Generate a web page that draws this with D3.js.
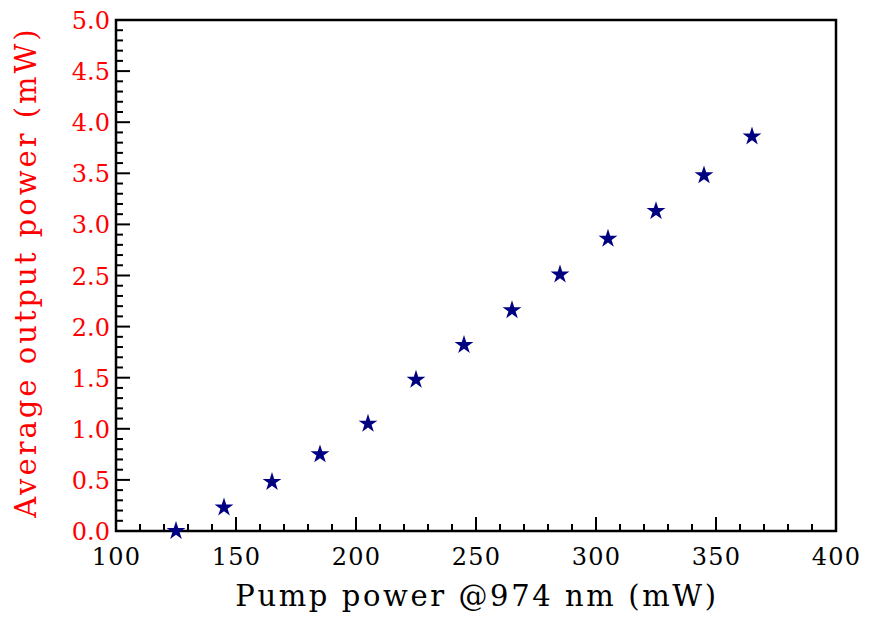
<!DOCTYPE html>
<html><head><meta charset="utf-8">
<script src="https://cdn.jsdelivr.net/npm/d3@7"></script>
<style>body{margin:0;background:#fff} text{font-family:"DejaVu Serif","Liberation Serif",serif;}</style>
</head><body>
<script>
const pumpPower = [125,145,165,185,205,225,245,265,285,305,325,345,365];
const outputPower = [0.00,0.23,0.48,0.75,1.05,1.48,1.82,2.16,2.51,2.86,3.13,3.48,3.86];
const xTicks = [100,150,200,250,300,350,400];
const yTicks = [0.0,0.5,1.0,1.5,2.0,2.5,3.0,3.5,4.0,4.5,5.0];
const xTitle = "Pump power @974 nm (mW)";
const yTitle = "Average output power (mW)";

const W=871,H=621;
const m={l:116,t:20,r:35,b:90};
const svg=d3.select("body").append("svg").attr("width",W).attr("height",H);
const x=d3.scaleLinear().domain([100,400]).range([m.l,W-m.r]);
const y=d3.scaleLinear().domain([0,5]).range([H-m.b,m.t]);

const xMinor=d3.range(100,401,10).filter(v=>v%50!==0);
const yMinor=d3.range(0,51,1).map(v=>v/10).filter(v=>Math.round(v*10)%5!==0);

const g=svg.append("g");
g.selectAll(".xmin").data(xMinor).join("line")
 .attr("x1",d=>x(d)).attr("x2",d=>x(d)).attr("y1",y(0)).attr("y2",y(0)-7)
 .attr("stroke","#000").attr("stroke-width",2);
g.selectAll(".xmaj").data(xTicks).join("line")
 .attr("x1",d=>x(d)).attr("x2",d=>x(d)).attr("y1",y(0)).attr("y2",y(0)-14)
 .attr("stroke","#000").attr("stroke-width",2);
g.selectAll(".ymin").data(yMinor).join("line")
 .attr("x1",x(100)).attr("x2",x(100)+7).attr("y1",d=>y(d)).attr("y2",d=>y(d))
 .attr("stroke","#000").attr("stroke-width",2);
g.selectAll(".ymaj").data(yTicks).join("line")
 .attr("x1",x(100)).attr("x2",x(100)+14).attr("y1",d=>y(d)).attr("y2",d=>y(d))
 .attr("stroke","#000").attr("stroke-width",2);

svg.append("rect").attr("x",x(100)).attr("y",y(5)).attr("width",x(400)-x(100)).attr("height",y(0)-y(5))
 .attr("fill","none").attr("stroke","#000").attr("stroke-width",2.5);

svg.selectAll(".xl").data(xTicks).join("text")
 .attr("x",d=>x(d)+0.5).attr("y",y(0)+34).attr("text-anchor","middle")
 .attr("font-size",24).attr("letter-spacing",1.2).attr("fill","#000")
 .text(d=>d);
svg.selectAll(".yl").data(yTicks).join("text")
 .attr("x",x(100)-6).attr("y",d=>y(d)+9).attr("text-anchor","end")
 .attr("font-size",24).attr("fill","#ff0000")
 .text(d=>d.toFixed(1));

svg.append("text").attr("x",(x(100)+x(400))/2+1).attr("y",606).attr("text-anchor","middle")
 .attr("font-size",29).attr("letter-spacing",2.6).attr("fill","#000").text(xTitle);
svg.append("text").attr("transform",`translate(36,272) rotate(-90)`).attr("text-anchor","middle")
 .attr("font-size",29).attr("letter-spacing",3.0).attr("fill","#ff0000").text(yTitle);

const star=d3.symbol().type(d3.symbolStar).size(110);
svg.selectAll(".pt").data(pumpPower.map((p,i)=>[p,outputPower[i]])).join("path")
 .attr("d",star).attr("transform",d=>`translate(${x(d[0])},${y(d[1])})`)
 .attr("fill","#000080");
</script>
</body></html>
